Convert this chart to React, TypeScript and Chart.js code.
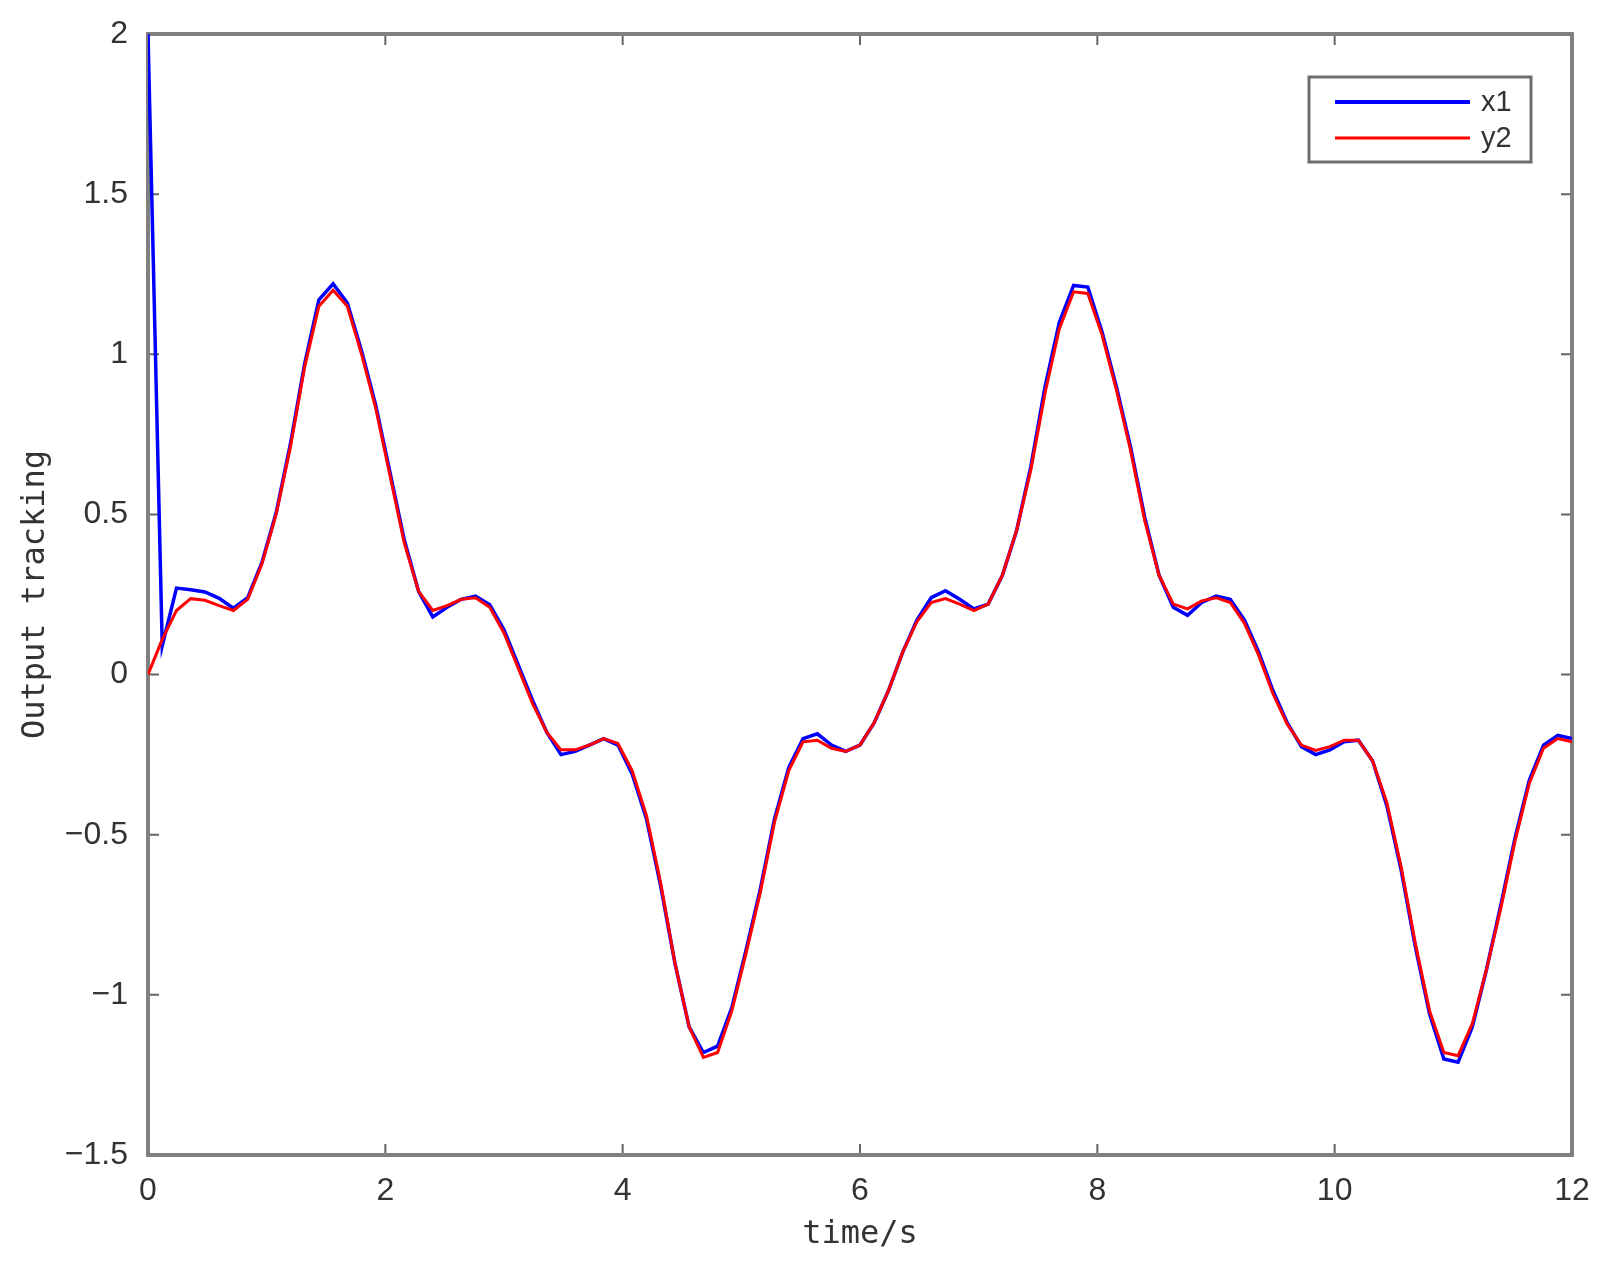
import { useEffect, useRef } from 'react';
import { Chart, registerables } from 'chart.js';

Chart.register(...registerables);

const timeS = [
  0.0, 0.12, 0.24, 0.36, 0.48, 0.6, 0.72, 0.84, 0.96, 1.08,
  1.2, 1.32, 1.44, 1.56, 1.68, 1.8, 1.92, 2.04, 2.16, 2.28,
  2.4, 2.52, 2.64, 2.76, 2.88, 3.0, 3.12, 3.24, 3.36, 3.48,
  3.6, 3.72, 3.84, 3.96, 4.08, 4.2, 4.32, 4.44, 4.56, 4.68,
  4.8, 4.92, 5.04, 5.16, 5.28, 5.4, 5.52, 5.64, 5.76, 5.88,
  6.0, 6.12, 6.24, 6.36, 6.48, 6.6, 6.72, 6.84, 6.96, 7.08,
  7.2, 7.32, 7.44, 7.56, 7.68, 7.8, 7.92, 8.04, 8.16, 8.28,
  8.4, 8.52, 8.64, 8.76, 8.88, 9.0, 9.12, 9.24, 9.36, 9.48,
  9.6, 9.72, 9.84, 9.96, 10.08, 10.2, 10.32, 10.44, 10.56, 10.68,
  10.8, 10.92, 11.04, 11.16, 11.28, 11.4, 11.52, 11.64, 11.76, 11.88,
  12.0,
];

const x1Values = [
  2.0, 0.09, 0.27, 0.265, 0.258, 0.238, 0.207, 0.24, 0.35, 0.505,
  0.72, 0.97, 1.17, 1.22, 1.16, 1.01, 0.84, 0.63, 0.42, 0.26,
  0.18, 0.21, 0.235, 0.245, 0.218, 0.14, 0.03, -0.08, -0.18, -0.25,
  -0.24, -0.22, -0.2, -0.22, -0.31, -0.45, -0.66, -0.9, -1.1, -1.18,
  -1.16, -1.04, -0.86, -0.67, -0.45, -0.29, -0.2, -0.185, -0.22, -0.24,
  -0.22, -0.15, -0.05, 0.07, 0.17, 0.24, 0.262, 0.235, 0.205, 0.22,
  0.31, 0.45, 0.65, 0.9, 1.1, 1.215, 1.21, 1.07, 0.9, 0.71,
  0.49, 0.31, 0.21, 0.185, 0.225, 0.245, 0.235, 0.17, 0.07, -0.05,
  -0.15, -0.225, -0.25, -0.235, -0.21, -0.205, -0.27, -0.41, -0.61, -0.85,
  -1.06, -1.2, -1.21, -1.1, -0.92, -0.72, -0.51, -0.33, -0.22, -0.19,
  -0.2,
];

const y2Values = [
  0.0, 0.11, 0.2, 0.237, 0.232, 0.215, 0.2, 0.235, 0.345, 0.5,
  0.71, 0.96, 1.15, 1.2, 1.15, 1.0, 0.83, 0.62, 0.41, 0.26,
  0.2, 0.215, 0.235, 0.24, 0.21, 0.13, 0.02, -0.09, -0.18, -0.235,
  -0.235, -0.22, -0.2, -0.215, -0.3, -0.44, -0.65, -0.9, -1.1, -1.195,
  -1.18, -1.05, -0.87, -0.68, -0.46, -0.3, -0.21, -0.205, -0.23, -0.24,
  -0.22, -0.15, -0.05, 0.07, 0.165, 0.225, 0.237, 0.22, 0.2, 0.22,
  0.31, 0.45, 0.64, 0.88, 1.08, 1.195, 1.19, 1.06, 0.89, 0.7,
  0.48, 0.31, 0.22, 0.205, 0.23, 0.24, 0.225, 0.16, 0.06, -0.06,
  -0.155, -0.22, -0.237, -0.225, -0.205, -0.205, -0.27, -0.4, -0.6, -0.84,
  -1.05, -1.18, -1.19, -1.09, -0.92, -0.73, -0.52, -0.34, -0.23, -0.2,
  -0.21,
];

const xTicks = [0, 2, 4, 6, 8, 10, 12];
const yTicks = [-1.5, -1, -0.5, 0, 0.5, 1, 1.5, 2];
const seriesNames = ['x1', 'y2'];
const seriesColors = ['#0000ff', '#ff0000'];

const fmt = (v: number) => (v < 0 ? '\u2212' + String(Math.abs(v)) : String(v));

const boxPlugin = {
  id: 'matlabBox',
  beforeDatasetsDraw(chart: any) {
    const { ctx, chartArea: a, scales } = chart;
    ctx.save();
    ctx.strokeStyle = '#666666';
    ctx.lineWidth = 2;
    const tl = 11;
    ctx.beginPath();
    for (const v of xTicks) {
      const px = scales.x.getPixelForValue(v);
      ctx.moveTo(px, a.bottom);
      ctx.lineTo(px, a.bottom - tl);
      ctx.moveTo(px, a.top);
      ctx.lineTo(px, a.top + tl);
    }
    for (const v of yTicks) {
      const py = scales.y.getPixelForValue(v);
      ctx.moveTo(a.left, py);
      ctx.lineTo(a.left + tl, py);
      ctx.moveTo(a.right, py);
      ctx.lineTo(a.right - tl, py);
    }
    ctx.stroke();
    ctx.strokeStyle = '#808080';
    ctx.lineWidth = 4;
    ctx.strokeRect(a.left, a.top, a.right - a.left, a.bottom - a.top);
    ctx.restore();
  },
  afterDraw(chart: any) {
    const { ctx } = chart;
    ctx.save();
    const bx = 1309, by = 77, bw = 222, bh = 85;
    ctx.fillStyle = '#ffffff';
    ctx.fillRect(bx, by, bw, bh);
    ctx.strokeStyle = '#6e6e6e';
    ctx.lineWidth = 3;
    ctx.strokeRect(bx, by, bw, bh);
    const rows = [102, 138];
    const widths = [4, 3];
    ctx.font = '29px "Liberation Sans", Arial, sans-serif';
    ctx.textBaseline = 'middle';
    ctx.textAlign = 'left';
    for (let i = 0; i < 2; i++) {
      ctx.strokeStyle = seriesColors[i];
      ctx.lineWidth = widths[i];
      ctx.beginPath();
      ctx.moveTo(1335, rows[i]);
      ctx.lineTo(1470, rows[i]);
      ctx.stroke();
      ctx.fillStyle = '#333333';
      ctx.fillText(seriesNames[i], 1481, rows[i] + 1);
    }
    ctx.restore();
  },
};

export default function App() {
  const ref = useRef<HTMLCanvasElement | null>(null);
  useEffect(() => {
    if (!ref.current) return;
    const chart = new Chart(ref.current, {
      type: 'line',
      data: {
        datasets: [
          {
            label: seriesNames[0],
            data: timeS.map((t, i) => ({ x: t, y: x1Values[i] })),
            borderColor: seriesColors[0],
            borderWidth: 3.5,
            pointRadius: 0,
            tension: 0,
            order: 1,
          },
          {
            label: seriesNames[1],
            data: timeS.map((t, i) => ({ x: t, y: y2Values[i] })),
            borderColor: seriesColors[1],
            borderWidth: 3,
            pointRadius: 0,
            tension: 0,
            order: 0,
          },
        ],
      },
      options: {
        animation: false,
        responsive: false,
        devicePixelRatio: 1,
        layout: { padding: { top: 34, right: 29, left: 0, bottom: 0 } },
        plugins: { legend: { display: false }, tooltip: { enabled: false } },
        scales: {
          x: {
            type: 'linear',
            min: 0,
            max: 12,
            afterFit: (s: any) => {
              s.height = 108;
              s.paddingLeft = 0;
              s.paddingRight = 0;
            },
            afterBuildTicks: (s: any) => { s.ticks = xTicks.map((v) => ({ value: v })); },
            ticks: {
              padding: 17,
              color: '#333333',
              font: { family: '"Liberation Sans", Arial, sans-serif', size: 32 },
              callback: (v: any) => fmt(Number(v)),
              maxRotation: 0,
            },
            grid: { display: false, drawTicks: false },
            border: { display: false },
            title: {
              display: true,
              text: 'time/s',
              color: '#333333',
              font: { family: '"DejaVu Sans Mono", monospace', size: 32 },
              padding: { top: 0, bottom: 9 },
            },
          },
          y: {
            type: 'linear',
            min: -1.5,
            max: 2,
            afterFit: (s: any) => {
              s.width = 148;
              s.paddingTop = 0;
              s.paddingBottom = 0;
            },
            afterBuildTicks: (s: any) => { s.ticks = yTicks.map((v) => ({ value: v })); },
            ticks: {
              padding: 20,
              color: '#333333',
              font: { family: '"Liberation Sans", Arial, sans-serif', size: 32 },
              callback: (v: any) => fmt(Number(v)),
            },
            grid: { display: false, drawTicks: false },
            border: { display: false },
            title: {
              display: true,
              text: 'Output tracking',
              color: '#333333',
              font: { family: '"DejaVu Sans Mono", monospace', size: 32 },
              padding: { top: 16, bottom: 0 },
            },
          },
        },
      },
      plugins: [boxPlugin],
    } as any);
    return () => chart.destroy();
  }, []);
  return (
    <div style={{ position: 'absolute', left: 0, top: 0, width: 1601, height: 1263, background: '#ffffff' }}>
      <canvas ref={ref} width={1601} height={1263} style={{ display: 'block', width: 1601, height: 1263 }} />
    </div>
  );
}
